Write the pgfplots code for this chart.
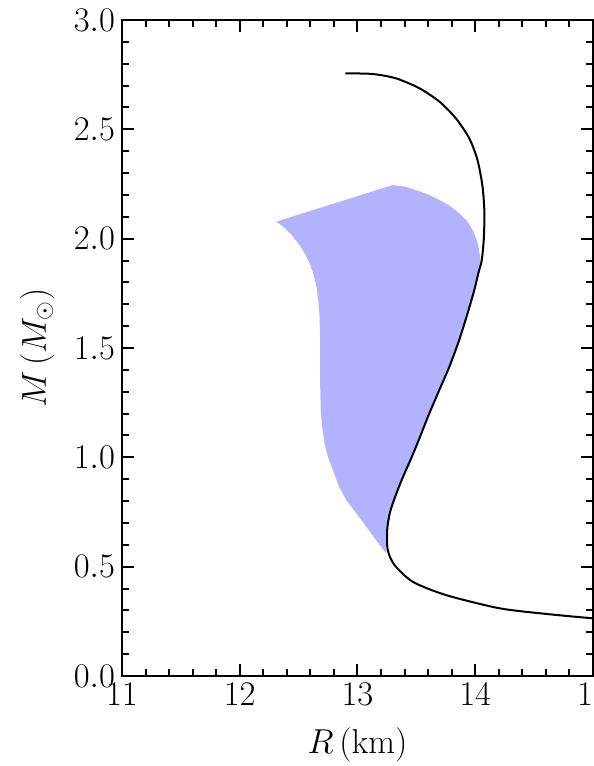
\documentclass[border=0pt]{standalone}
\usepackage{pgfplots}
\pgfplotsset{compat=1.18}
\definecolor{bandblue}{RGB}{178,178,255}

\begin{document}
\begin{tikzpicture}
\begin{axis}[
  name=ax,
  scale only axis,
  width=235.5pt, height=328pt,
  xmin=11, xmax=15, ymin=0, ymax=3,
  xtick={11,12,13,14,15}, ytick={0,0.5,1,1.5,2,2.5,3},
  minor x tick num=4, minor y tick num=4,
  tick align=inside, tick pos=both,
  major tick length=6pt, minor tick length=3.5pt,
  axis line style={line width=1.2pt},
  every tick/.style={black, line width=1pt},
  yticklabel style={/pgf/number format/.cd, fixed, fixed zerofill, precision=1},
  tick label style={font=\fontsize{17}{20}\selectfont},
  label style={font=\fontsize{17}{20}\selectfont},
  xlabel={$R\,(\mathrm{km})$},
  ylabel={$M\,(M_\odot)$},
  xlabel style={at={(axis description cs:0.5,-0.105)}, anchor=center},
  ylabel style={at={(axis description cs:-0.18,0.5)}, anchor=center},
]
% allowed band
\addplot[fill=bandblue, draw=none] coordinates {
  (13.243,0.561) (13.160,0.620) (13.074,0.683) (12.990,0.744) (12.904,0.805)
  (12.840,0.870) (12.791,0.942) (12.750,1.000) (12.720,1.064) (12.700,1.140)
  (12.688,1.216) (12.683,1.330) (12.682,1.445) (12.682,1.560) (12.678,1.640)
  (12.670,1.704) (12.655,1.770) (12.632,1.826) (12.600,1.880) (12.560,1.925)
  (12.510,1.970) (12.448,2.012) (12.380,2.050) (12.311,2.078)
  (13.299,2.245) (13.400,2.238) (13.497,2.222) (13.600,2.202) (13.695,2.177)
  (13.785,2.150) (13.864,2.116) (13.930,2.080) (13.977,2.040) (14.008,2.000)
  (14.028,1.963) (14.045,1.900) (14.030,1.850) (14.014,1.808) (13.992,1.765)
  (13.965,1.712) (13.935,1.659) (13.900,1.598) (13.864,1.537) (13.822,1.475)
  (13.780,1.414) (13.738,1.360) (13.695,1.308) (13.652,1.255) (13.610,1.201)
  (13.565,1.140) (13.520,1.079) (13.462,1.003) (13.418,0.950) (13.375,0.896)
  (13.340,0.850) (13.310,0.805) (13.274,0.744) (13.258,0.700) (13.252,0.668)
  (13.248,0.620) (13.243,0.561)
} -- cycle;
% M-R curve
\addplot[black, line width=1pt, smooth, tension=0.45] coordinates {
  (12.898,2.756) (13.130,2.753) (13.328,2.733) (13.525,2.688) (13.695,2.627)
  (13.836,2.550) (13.949,2.459) (14.019,2.360) (14.062,2.238) (14.078,2.116)
  (14.072,1.994) (14.055,1.900) (14.030,1.850) (13.992,1.765) (13.935,1.659)
  (13.864,1.537) (13.780,1.414) (13.695,1.308) (13.610,1.201) (13.520,1.079)
  (13.462,1.003) (13.375,0.896) (13.310,0.805) (13.274,0.744) (13.252,0.668)
  (13.257,0.576) (13.314,0.508) (13.469,0.431) (13.752,0.370) (14.203,0.310)
  (14.599,0.284) (14.992,0.264) (15.100,0.260)
};
\end{axis}
\pgfresetboundingbox
\path[use as bounding box] ([xshift=-61pt,yshift=-45pt]ax.south west) rectangle ([xshift=0.3pt,yshift=10pt]ax.north east);
\end{tikzpicture}
\end{document}
